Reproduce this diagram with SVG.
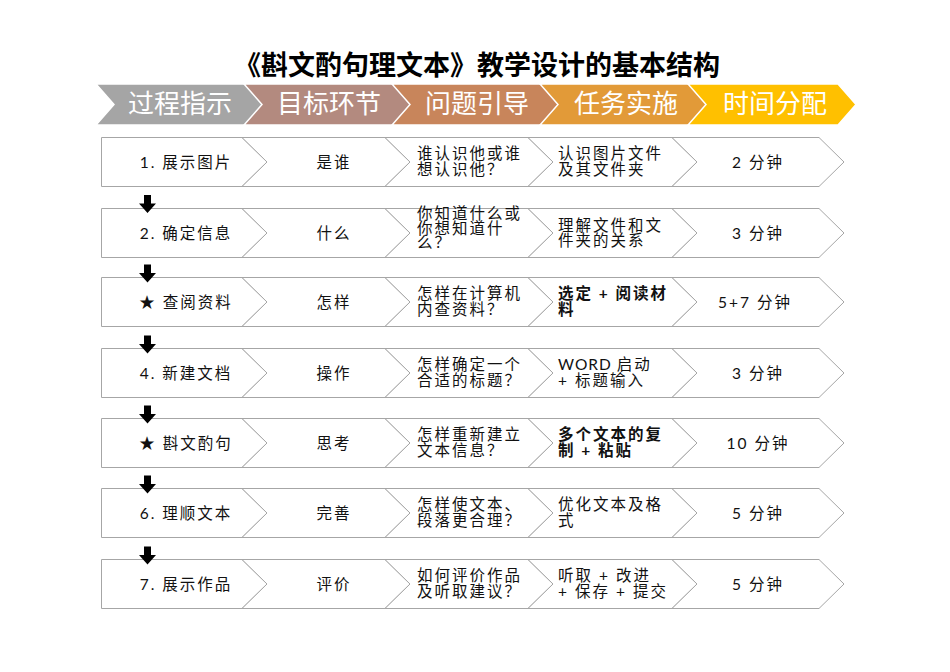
<svg xmlns="http://www.w3.org/2000/svg" width="950" height="672" viewBox="0 0 950 672">
<style>
.seg{fill:#fff;stroke:#A6A6A6;stroke-width:1}
.t{font-family:Lato,"Noto Sans CJK SC",sans-serif;font-size:15.5px;letter-spacing:2px;fill:#111}
.m{text-anchor:middle}
.b{font-weight:bold}
.h{font-family:"Noto Sans CJK SC",sans-serif;font-size:26px;fill:#fff;text-anchor:middle}
.hc{stroke:#fff;stroke-width:1.5}
.arr{fill:#000}
</style>
<rect width="950" height="672" fill="#fff"/>
<g id="title">
<text x="477" y="75" font-family="'Noto Sans CJK SC',sans-serif" font-size="27" font-weight="bold" text-anchor="middle" fill="#000">《斟文酌句理文本》教学设计的基本结构</text>
</g>
<g id="header">
<g id="h1"><polygon class="hc" fill="#A5A5A5" points="96,84 246,84 264,104.5 246,125 96,125 114,104.5"/><text class="h" x="180" y="113">过程指示</text></g>
<g id="h2"><polygon class="hc" fill="#B38A7F" points="244,84 394,84 412,104.5 394,125 244,125 262,104.5"/><text class="h" x="329" y="113">目标环节</text></g>
<g id="h3"><polygon class="hc" fill="#C8855B" points="392,84 542,84 560,104.5 542,125 392,125 410,104.5"/><text class="h" x="477" y="113">问题引导</text></g>
<g id="h4"><polygon class="hc" fill="#E29A38" points="540,84 690,84 708,104.5 690,125 540,125 558,104.5"/><text class="h" x="626" y="113">任务实施</text></g>
<g id="h5"><polygon class="hc" fill="#FFC000" points="688,84 838,84 856,104.5 838,125 688,125 706,104.5"/><text class="h" x="775" y="113">时间分配</text></g>
</g>

<g id="row1">
<g id="r1c1"><path class="seg" d="M101.5,137.5 H242 L267,162 L242,186.5 H101.5 Z"/><text class="t m" x="186" y="167.5">1. 展示图片</text></g>
<g id="r1c2"><path class="seg" d="M242,137.5 H385 L410,162 L385,186.5 H242 L267,162 Z"/><text class="t m" x="334" y="167.5">是谁</text></g>
<g id="r1c3"><path class="seg" d="M385,137.5 H528 L553,162 L528,186.5 H385 L410,162 Z"/><text class="t" x="417" y="159">谁认识他或谁<tspan x="417" dy="15.5">想认识他？</tspan></text></g>
<g id="r1c4"><path class="seg" d="M528,137.5 H672 L697,162 L672,186.5 H528 L553,162 Z"/><text class="t" x="558" y="159">认识图片文件<tspan x="558" dy="15.5">及其文件夹</tspan></text></g>
<g id="r1c5"><path class="seg" d="M672,137.5 H819 L844,162 L819,186.5 H672 L697,162 Z"/><text class="t m" x="758" y="167.5">2 分钟</text></g>
</g>

<g id="row2">
<g id="r2c1"><path class="seg" d="M101.5,208.5 H242 L267,233 L242,257.5 H101.5 Z"/><text class="t m" x="186" y="238.5">2. 确定信息</text></g>
<g id="r2c2"><path class="seg" d="M242,208.5 H385 L410,233 L385,257.5 H242 L267,233 Z"/><text class="t m" x="334" y="238.5">什么</text></g>
<g id="r2c3"><path class="seg" d="M385,208.5 H528 L553,233 L528,257.5 H385 L410,233 Z"/><text class="t" x="417" y="218.5">你知道什么或<tspan x="417" dy="15">你想知道什</tspan><tspan x="417" dy="14.5">么？</tspan></text></g>
<g id="r2c4"><path class="seg" d="M528,208.5 H672 L697,233 L672,257.5 H528 L553,233 Z"/><text class="t" x="558" y="230.5">理解文件和文<tspan x="558" dy="15">件夹的关系</tspan></text></g>
<g id="r2c5"><path class="seg" d="M672,208.5 H819 L844,233 L819,257.5 H672 L697,233 Z"/><text class="t m" x="758" y="238.5">3 分钟</text></g>
</g>

<g id="row3">
<g id="r3c1"><path class="seg" d="M101.5,277.5 H242 L267,302 L242,326.5 H101.5 Z"/><text class="t m" x="186" y="307.5">★ 查阅资料</text></g>
<g id="r3c2"><path class="seg" d="M242,277.5 H385 L410,302 L385,326.5 H242 L267,302 Z"/><text class="t m" x="334" y="307.5">怎样</text></g>
<g id="r3c3"><path class="seg" d="M385,277.5 H528 L553,302 L528,326.5 H385 L410,302 Z"/><text class="t" x="417" y="299">怎样在计算机<tspan x="417" dy="15.5">内查资料？</tspan></text></g>
<g id="r3c4"><path class="seg" d="M528,277.5 H672 L697,302 L672,326.5 H528 L553,302 Z"/><text class="t b" x="558" y="299">选定 + 阅读材<tspan x="558" dy="15.5">料</tspan></text></g>
<g id="r3c5"><path class="seg" d="M672,277.5 H819 L844,302 L819,326.5 H672 L697,302 Z"/><text class="t m" x="755" y="307.5">5+7 分钟</text></g>
</g>

<g id="row4">
<g id="r4c1"><path class="seg" d="M101.5,348.5 H242 L267,373 L242,397.5 H101.5 Z"/><text class="t m" x="186" y="378.5">4. 新建文档</text></g>
<g id="r4c2"><path class="seg" d="M242,348.5 H385 L410,373 L385,397.5 H242 L267,373 Z"/><text class="t m" x="334" y="378.5">操作</text></g>
<g id="r4c3"><path class="seg" d="M385,348.5 H528 L553,373 L528,397.5 H385 L410,373 Z"/><text class="t" x="417" y="370">怎样确定一个<tspan x="417" dy="15.5">合适的标题？</tspan></text></g>
<g id="r4c4"><path class="seg" d="M528,348.5 H672 L697,373 L672,397.5 H528 L553,373 Z"/><text class="t" x="558" y="370"><tspan letter-spacing="1">WORD </tspan>启动<tspan x="558" dy="15.5">+ 标题输入</tspan></text></g>
<g id="r4c5"><path class="seg" d="M672,348.5 H819 L844,373 L819,397.5 H672 L697,373 Z"/><text class="t m" x="758" y="378.5">3 分钟</text></g>
</g>

<g id="row5">
<g id="r5c1"><path class="seg" d="M101.5,418.5 H242 L267,443 L242,467.5 H101.5 Z"/><text class="t m" x="186" y="448.5">★ 斟文酌句</text></g>
<g id="r5c2"><path class="seg" d="M242,418.5 H385 L410,443 L385,467.5 H242 L267,443 Z"/><text class="t m" x="334" y="448.5">思考</text></g>
<g id="r5c3"><path class="seg" d="M385,418.5 H528 L553,443 L528,467.5 H385 L410,443 Z"/><text class="t" x="417" y="440">怎样重新建立<tspan x="417" dy="15.5">文本信息？</tspan></text></g>
<g id="r5c4"><path class="seg" d="M528,418.5 H672 L697,443 L672,467.5 H528 L553,443 Z"/><text class="t b" x="558" y="440">多个文本的复<tspan x="558" dy="15.5">制 + 粘贴</tspan></text></g>
<g id="r5c5"><path class="seg" d="M672,418.5 H819 L844,443 L819,467.5 H672 L697,443 Z"/><text class="t m" x="758" y="448.5">10 分钟</text></g>
</g>

<g id="row6">
<g id="r6c1"><path class="seg" d="M101.5,488.5 H242 L267,513 L242,537.5 H101.5 Z"/><text class="t m" x="186" y="518.5">6. 理顺文本</text></g>
<g id="r6c2"><path class="seg" d="M242,488.5 H385 L410,513 L385,537.5 H242 L267,513 Z"/><text class="t m" x="334" y="518.5">完善</text></g>
<g id="r6c3"><path class="seg" d="M385,488.5 H528 L553,513 L528,537.5 H385 L410,513 Z"/><text class="t" x="417" y="510">怎样使文本、<tspan x="417" dy="15.5">段落更合理？</tspan></text></g>
<g id="r6c4"><path class="seg" d="M528,488.5 H672 L697,513 L672,537.5 H528 L553,513 Z"/><text class="t" x="558" y="510">优化文本及格<tspan x="558" dy="15.5">式</tspan></text></g>
<g id="r6c5"><path class="seg" d="M672,488.5 H819 L844,513 L819,537.5 H672 L697,513 Z"/><text class="t m" x="758" y="518.5">5 分钟</text></g>
</g>

<g id="row7">
<g id="r7c1"><path class="seg" d="M101.5,559.5 H242 L267,584 L242,608.5 H101.5 Z"/><text class="t m" x="186" y="589.5">7. 展示作品</text></g>
<g id="r7c2"><path class="seg" d="M242,559.5 H385 L410,584 L385,608.5 H242 L267,584 Z"/><text class="t m" x="334" y="589.5">评价</text></g>
<g id="r7c3"><path class="seg" d="M385,559.5 H528 L553,584 L528,608.5 H385 L410,584 Z"/><text class="t" x="417" y="581">如何评价作品<tspan x="417" dy="15.5">及听取建议？</tspan></text></g>
<g id="r7c4"><path class="seg" d="M528,559.5 H672 L697,584 L672,608.5 H528 L553,584 Z"/><text class="t" x="558" y="581">听取 + 改进<tspan x="558" dy="15.5">+ 保存 + 提交</tspan></text></g>
<g id="r7c5"><path class="seg" d="M672,559.5 H819 L844,584 L819,608.5 H672 L697,584 Z"/><text class="t m" x="758" y="589.5">5 分钟</text></g>
</g>

<g id="connectors">
<path class="arr" d="M144,195 H151 V203.5 H156 L147.5,213 L139,203.5 H144 Z"/>
<path class="arr" d="M144,264.5 H151 V273 H156 L147.5,282.5 L139,273 H144 Z"/>
<path class="arr" d="M144,335.5 H151 V344 H156 L147.5,353.5 L139,344 H144 Z"/>
<path class="arr" d="M144,405.5 H151 V414 H156 L147.5,423.5 L139,414 H144 Z"/>
<path class="arr" d="M144,475.5 H151 V484 H156 L147.5,493.5 L139,484 H144 Z"/>
<path class="arr" d="M144,546.5 H151 V555 H156 L147.5,564.5 L139,555 H144 Z"/>
</g>
</svg>
